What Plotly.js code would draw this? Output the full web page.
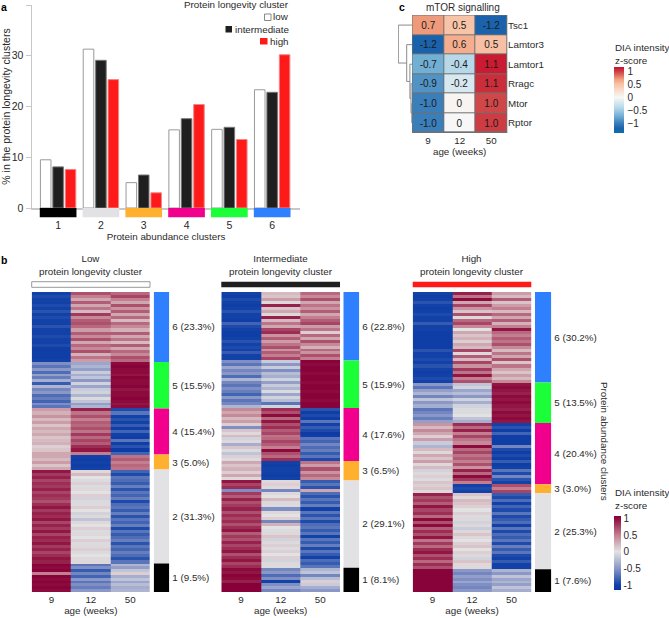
<!DOCTYPE html>
<html><head><meta charset="utf-8">
<script src="https://cdn.plot.ly/plotly-3.0.1.min.js"></script>
<style>html,body{margin:0;padding:0;background:#fff}#g{width:669px;height:618px}</style></head>
<body><div id="g"></div>
<script>
const abundanceClusters=[1,2,3,4,5,6];
const clusterColors=['#000000','#e2e1e4','#ffb02e','#f0008c','#1aff38','#2f80ff'];
const pctLow=[9.5,31.3,5.0,15.4,15.5,23.3];
const pctInt=[8.1,29.1,6.5,17.6,15.9,22.8];
const pctHigh=[7.6,25.3,3.0,20.4,13.5,30.2];
const ages=['9','12','50'];
const genes=['Tsc1','Lamtor3','Lamtor1','Rragc','Mtor','Rptor'];
const mtorZ=[[0.72,0.5,-1.2],[-1.2,0.62,0.52],[-0.72,-0.4,1.14],[-0.88,-0.2,1.07],[-1.0,0.03,0.98],[-1.0,0,1.02]];
const mtorText=[['0.7','0.5','-1.2'],['-1.2','0.6','0.5'],['-0.7','-0.4','1.1'],['-0.9','-0.2','1.1'],['-1.0','0','1.0'],['-1.0','0','1.0']];
const dendroH=[0,14,14,5.6,null,0,5.6,5.6,2.4,null,0,2.4,2.4,1.3,null,0,1.3,1.3,0.5,null,0,0.5,0.5,0];
const dendroRow=[0,0,1.94,1.94,null,1,1,2.88,2.88,null,2,2,3.75,3.75,null,3,3,4.5,4.5,null,4,4,5,5];

const low6=[[-1,.7,.6],[-.95,.5,.75],[-1,.3,.5],[-1,.65,.3],[-.95,.3,.7],[-1,.55,.4],[-.9,.2,.65],[-1,.8,.3],[-.95,.45,.6],[-1,.65,.2],[-1,.7,.6],[-.9,.6,.45],[-1,.35,.25],[-1,.65,.65],[-.95,.45,.3],[-1,.7,.55],[-1,.3,.2],[-.95,.6,.65],[-1.05,.45,.3],[-1.05,.7,.6],[-1.05,.25,.45],[-1.05,.55,.7],[-1,.35,.6]];
const low5=[[-.55,-.4,1],[-.7,-.3,1.05],[-.5,-.45,1],[-.75,-.15,1],[-.45,-.35,.95],[-.65,-.2,1.05],[-.35,-.5,1],[-.85,-.1,1],[-.3,-.4,1.05],[-.6,-.15,.95],[-.5,-.1,1],[-.75,-.3,1],[-.65,-.05,1.05],[-.8,-.2,1],[-.55,-.45,.95],[-.7,-.3,1]];
const low4=[[.35,.9,-.95],[.25,.55,-.7],[.4,.7,-1],[.2,.5,-.9],[.35,.65,-1],[.15,.6,-.85],[.3,.7,-1.05],[.2,.55,-.8],[.3,.8,-1],[.15,.6,-1.05],[.2,.75,-.7],[.25,.65,-1.05],[.1,.85,-.9],[.15,.95,-1.1],[.3,.5,-.8]];
const low3=[[.3,-1,.55],[.2,-1.05,.65],[.35,-1,.5],[.15,-1.05,.6],[.3,-1,.55]];
const low2=[[.95,.05,-.8],[.8,.2,-.95],[.9,0,-.7],[.75,-.05,-.75],[.85,.1,-.85],[.8,-.05,-.65],[.9,.05,-.9],[.75,0,-.7],[.85,.1,-.8],[.8,-.1,-.65],[.7,.05,-.95],[.85,-.05,-.75],[.95,.1,-.7],[.8,0,-.85],[.9,-.1,-.65],[.85,.05,-.9],[.95,-.2,-.7],[.75,.05,-.8],[.9,0,-.65],[.8,.1,-.95],[.95,-.05,-.7],[.75,.05,-.85],[.9,0,-.75],[.85,.1,-.65],[.95,-.05,-.9],[.8,.05,-.7],[.9,.1,-.8],[.75,-.05,-.65],[.85,0,-.75],[.95,.05,-.9],[.9,.05,-.7]];
const low1=[[1.05,-.7,-.3],[1,-.55,-.45],[1.05,-.85,-.2],[.5,-.6,.1],[1.05,-.8,-.35],[1,-.5,-.2],[1.05,-.7,-.4],[1,-.55,-.25],[1.05,-.65,-.35],[1,-.5,-.3]];

const int6=[[-1,.2,.6],[-1.05,.15,.45],[-.95,.35,.7],[-1,.05,.3],[-1.05,.9,.55],[-1,.15,.4],[-.9,.3,.65],[-1,.05,.3],[-1,.9,.5],[-1.05,.2,.65],[-.8,.55,.75],[-.95,.3,.35],[-1,.75,.55],[-1.05,.85,.1],[-1.05,.4,.6],[-1,.65,.3],[-.9,.35,.7],[-1,.55,.45],[-.95,.7,.25],[-1,.4,.6],[-.85,.65,.4],[-1,.5,.7],[-1,.75,.5]];
const int5=[[-.55,-.15,1.05],[-.7,-.5,1],[-.4,-.15,1.05],[-.6,-.55,1.05],[-.5,-.25,1],[-.75,-.35,1.05],[-.3,-.1,1.05],[-.6,-.45,1],[-.7,-.15,1.05],[-.55,-.3,1.05],[-.65,-.05,1],[-.8,-.4,1.05],[-.5,-.1,1.05],[-.7,-.25,1],[-.6,-.7,1.05],[-.3,-.1,1.05]];
const int4=[[.45,.85,-.9],[.3,.7,-1.05],[.45,1,-.95],[.2,.6,-1.05],[.35,.95,-.7],[.1,.7,-1],[-.55,.85,-.85],[.15,.65,-.95],[.05,.75,-1.1],[.2,.55,-1.05],[-.1,.6,-.7],[.05,.75,-.8],[-.35,.65,-.6],[.15,.5,-.75],[-.05,1,-.65],[-.2,.7,-.85],[.1,.6,-.7],[-.05,.85,-.95]];
const int3=[[.3,-1,.55],[.15,-1.05,.35],[.25,-1,.7],[.1,-1,.4],[.3,-1.05,.6],[.05,-1,.45]];
const int2=[[.95,.05,-.85],[.75,.1,-.7],[.85,.05,-.9],[-.55,-.6,.3],[.8,.05,-.75],[.65,0,-.9],[.9,.2,-.7],[.7,.05,-.85],[.8,-.05,-.65],[.9,-.55,-1],[.7,.05,-.7],[.85,0,-.9],[.75,.1,-.7],[.85,-.6,-.95],[.7,.25,-.75],[.85,0,-.7],[.95,-.05,-.85],[.65,.05,-.7],[.8,.15,-1],[.7,-.1,-.7],[.9,.05,-.85],[.75,.1,-.65],[.85,-.05,-.95],[.95,.1,-.7],[.7,0,-.85],[.85,.1,-1],[.95,-.1,-.75],[.75,.05,-.85],[.85,-.05,-.7]];
const int1=[[1,-.6,-.3],[.95,-.5,-.2],[1.05,-.75,-.6],[1,-.55,-.25],[.9,-1,.1],[1.1,-.55,-.15],[1.1,-.4,-.35],[1.1,-.6,-.5]];

const high6=[[-1,.9,.35],[-1.05,.55,.2],[-1,1,.65],[-.9,.3,.15],[-1,.75,.35],[-1.05,.4,.5],[-1,.15,.2],[-.95,.7,.6],[-1,.05,.3],[-1,.6,.65],[-.85,.75,.25],[-1,.45,.5],[-1,0,.95],[-1.05,.3,.6],[-1.05,.15,.5],[-1.05,.25,.65],[-1.05,.1,.55],[-1.05,.3,.7],[-1.05,.2,.45],[-.9,.75,.2],[-1,.05,.55],[-1,.65,.3],[-.95,.2,.7],[-1,.75,.15],[-.9,.4,.55],[-1,.8,.3],[-1.05,.55,.15],[-1,.95,.35],[-.95,.5,.2],[-1,.7,.45]];
const high5=[[-.5,-.2,.95],[-.7,-.1,1],[-.45,-.4,.95],[-.3,-.25,.9],[-.6,-.5,1],[-.2,-.1,.95],[-.5,-.35,1],[-.35,-.1,.95],[-.7,-.05,.9],[-.6,-.05,1],[-.5,0,.95],[-.65,-.2,1],[-.45,-.35,.95]];
const high4=[[.4,.85,-1],[.2,.6,-.9],[.45,.9,-1.05],[.3,.5,-.8],[.1,.75,-1.05],[.35,.55,-1.05],[-.15,.45,-1.05],[-.3,1,-.6],[.2,.6,-.95],[.05,.75,-1.05],[.3,.55,-.95],[.15,.65,-1.05],[.35,.5,-.85],[.05,.7,-1.05],[.2,.4,-1],[-.1,.9,-.7],[.05,.6,-.95],[.1,1,-.6],[-.05,.8,-.9],[.15,.5,-1]];
const high3=[[.1,-1,.7],[.15,-.95,.5],[.05,-1,.75]];
const high2=[[.9,.15,-.85],[.7,.05,-.95],[.8,.2,-.75],[.65,.15,-1],[.95,.1,-.8],[.75,0,-.95],[.85,.1,-.7],[.6,-.05,-.95],[1,.05,-.85],[.7,-.1,-.75],[1,.05,-1],[.65,-.15,-.7],[.85,.05,-.95],[.7,.15,-.75],[.95,.05,-.85],[.55,0,-.7],[.8,.1,-.95],[.6,.15,-.65],[.85,0,-.85],[.95,.1,-.7],[.7,.05,-.95],[.85,-.1,-1],[.6,.15,-.85],[.85,.05,-1],[.7,.05,-1]];
const high1=[[1.05,-.5,-.3],[1.05,-.6,-.5],[1.05,-.45,-.2],[1.05,-.55,-.4],[1.05,-.4,-.3],[1.05,-.55,-.45],[1.05,-.6,-.2],[1.05,-.5,-.35]];

const W=669,H=618;
const FONT='"Liberation Sans", Arial, sans-serif', INK='#2a2a2a', FS=9.8;
const dx=(a,b)=>[a/W,b/W], dy=(t,b)=>[1-b/H,1-t/H], px=a=>a/W, py=t=>1-t/H;
const hid={showgrid:false,zeroline:false,showticklabels:false,ticks:'',showline:false,fixedrange:true};

function normStops(vs,cs){const a=vs[0],b=vs[vs.length-1];return vs.map((v,i)=>[(v-a)/(b-a),cs[i]]);}
const abundVals=[-1.15,-1,-.5,0,.5,1,1.07];
const abundCols=['#0a37a5','#1242a8','#8b97c6','#e2e2e2','#c37f90','#8c0a3c','#88003a'];
const mtorVals=[-1.38,-1.2,-1,-.7,-.4,0,.5,.7,1,1.18];
const mtorCols=['#0a70b2','#1b62ac','#3a7fba','#75b2d6','#b7d8e9','#f7f7f7','#f8c4a8','#f2a07e','#cc4145','#c8102c'];

const traces=[], layout={
  width:W,height:H,margin:{l:0,r:0,t:0,b:0,autoexpand:false},paper_bgcolor:'#fff',plot_bgcolor:'rgba(0,0,0,0)',
  showlegend:false,barmode:'group',bargap:0.13,bargroupgap:0.15,font:{family:FONT,size:FS,color:INK},
  shapes:[],annotations:[]
};
const note=(text,x,y,o={})=>layout.annotations.push(Object.assign({text,x:px(x),y:py(y),xref:'paper',yref:'paper',showarrow:false,xanchor:'center',yanchor:'middle',font:{family:FONT,size:FS,color:INK}},o));
const box=(x0,x1,t,b,fill,line)=>layout.shapes.push({type:'rect',layer:'below',xref:'paper',yref:'paper',x0:px(x0),x1:px(x1),y0:py(t),y1:py(b),fillcolor:fill,line:{color:line||fill,width:line?1:0}});

// a: bars
const barX0=0.39,barX1=6.65;
[['low',pctLow,'#ffffff','#9a9a9a'],['intermediate',pctInt,'#1f1f1f','#777777'],['high',pctHigh,'#ff1a1a','#e88']].forEach(s=>{
  traces.push({type:'bar',name:s[0],x:abundanceClusters,y:s[1],marker:{color:s[2],line:{color:s[3],width:1}},xaxis:'x',yaxis:'y'});
});
layout.xaxis={domain:dx(32,300),range:[barX0,barX1],...hid,showline:true,linecolor:'#c8c8c8',linewidth:1.5,anchor:'y'};
layout.yaxis={domain:dy(5,208),range:[0,40],tickvals:[0,10,20,30,40],showgrid:false,zeroline:false,showline:true,linecolor:'#c8c8c8',linewidth:1.5,ticks:'outside',ticklen:5,tickcolor:'#c8c8c8',tickwidth:1,tickfont:{size:10.5},anchor:'x',fixedrange:true,
  title:{text:'% in the protein longevity clusters',font:{size:10.5},standoff:4}};
traces.push({type:'bar',x:abundanceClusters,y:abundanceClusters.map(()=>1),width:0.857,marker:{color:clusterColors},xaxis:'x2',yaxis:'y2',hoverinfo:'skip'});
layout.xaxis2={domain:dx(32,300),range:[barX0,barX1],showgrid:false,zeroline:false,showline:false,ticks:'',tickvals:abundanceClusters,tickfont:{size:10.5},anchor:'y2',fixedrange:true,
  title:{text:'Protein abundance clusters',font:{size:FS},standoff:1}};
layout.yaxis2={domain:dy(208,217.5),range:[0,1],...hid,anchor:'x2'};

// legend drawn to the original right-aligned layout
note('Protein longevity cluster',290.5,5,{xanchor:'right'});
note('low',290.5,17,{xanchor:'right'});
note('intermediate',290.5,29,{xanchor:'right'});
note('high',290.5,41,{xanchor:'right'});
box(264.5,271,14,20.5,'#ffffff','#888888');
box(225.5,232,26,32.5,'#1f1f1f');
box(260,267.5,38,44.5,'#ff1a1a');

// c: mTOR heatmap
box(412,507.3,15,133,'#707070');
traces.push({type:'heatmap',x:ages,y:genes,z:mtorZ,text:mtorText,texttemplate:'%{text}',textfont:{family:FONT,size:10,color:'#1a1a1a'},xgap:1,ygap:1,
  zmin:-1.38,zmax:1.18,colorscale:normStops(mtorVals,mtorCols),xaxis:'x3',yaxis:'y3',
  colorbar:{x:px(614),xanchor:'left',xpad:0,y:py(67),yanchor:'top',ypad:0,len:66,lenmode:'pixels',thickness:10,thicknessmode:'pixels',outlinewidth:0,
    tickvals:[-1,-.5,0,.5,1],ticktext:['\u22121','\u22120.5','0','0.5','1'],ticks:'outside',ticklen:2,tickcolor:'rgba(0,0,0,0)',tickfont:{family:FONT,size:10,color:INK}}});
layout.xaxis3={domain:dx(412.3,507),type:'category',showgrid:false,zeroline:false,ticks:'',tickfont:{size:FS},anchor:'y3',fixedrange:true,title:{text:'age (weeks)',font:{size:FS},standoff:3}};
layout.yaxis3={domain:dy(15.3,132.7),type:'category',autorange:'reversed',side:'right',showgrid:false,zeroline:false,ticks:'',tickfont:{size:FS},anchor:'x3',fixedrange:true};
traces.push({type:'scatter',mode:'lines',x:dendroH,y:dendroRow,line:{color:'#8a8a8a',width:1},connectgaps:false,xaxis:'x4',yaxis:'y4',hoverinfo:'skip'});
layout.xaxis4={domain:dx(398,412.3),range:[14.3,0],...hid,anchor:'y4'};
layout.yaxis4={domain:dy(15.3,132.7),range:[5.5,-.5],...hid,anchor:'x4'};
note('mTOR signalling',462.7,8,{font:{family:FONT,size:10,color:INK}});

// b: three panels
function panel(n,rowsByCluster,pcts,heatX,stripX,labelTop,header){
  const xa='x'+n,ya='y'+n,xb='x'+(n+1),yb='y'+(n+1);
  const order=[5,4,3,2,1,0];
  let z=[],edges=[],cum=0,bases=[],vals=[],cols=[],mids=[],labels=[];
  order.forEach(i=>{
    const rows=rowsByCluster[i],p=pcts[i];
    rows.forEach((r,k)=>{z.push(r);edges.push(cum+p*k/rows.length);});
    bases.push(cum);vals.push(p);cols.push(clusterColors[i]);mids.push(cum+p/2);labels.push(abundanceClusters[i]+' ('+p.toFixed(1)+'%)');
    cum+=p;
  });
  edges.push(cum);
  const tr={type:'heatmap',x:ages,y:edges,z:z,zmin:-1.15,zmax:1.07,colorscale:normStops(abundVals,abundCols),showscale:false,xaxis:xa,yaxis:ya};
  if(n===9){tr.showscale=true;tr.colorbar={x:px(614),xanchor:'left',xpad:0,y:py(516),yanchor:'top',ypad:0,len:74,lenmode:'pixels',thickness:7,thicknessmode:'pixels',outlinewidth:0,
    tickvals:[-1,-.5,0,.5,1],ticktext:['-1','-0.5','0','0.5','1'],ticks:'',tickfont:{family:FONT,size:10,color:INK}};}
  traces.push(tr);
  layout['xaxis'+n]={domain:dx(heatX[0],heatX[1]),type:'category',showgrid:false,zeroline:false,ticks:'',tickfont:{size:FS},anchor:ya,fixedrange:true,title:{text:'age (weeks)',font:{size:FS},standoff:3}};
  layout['yaxis'+n]={domain:dy(292,592),range:[cum,0],...hid,anchor:xa};
  traces.push({type:'bar',orientation:'v',x:vals.map(()=>1),y:vals,base:bases,width:1,marker:{color:cols},xaxis:xb,yaxis:yb,hoverinfo:'skip'});
  layout['xaxis'+(n+1)]={domain:dx(stripX[0],stripX[1]),range:[.5,1.5],...hid,anchor:yb};
  layout['yaxis'+(n+1)]={domain:dy(292,592),range:[cum,0],side:'right',showgrid:false,zeroline:false,showline:false,ticks:'',tickvals:mids,ticktext:labels,tickfont:{size:FS},ticklabelstandoff:2,anchor:xb,fixedrange:true};
  box(heatX[0],heatX[1],281.7,287.3,header[0],header[1]);
  note(labelTop,(heatX[0]+heatX[1])/2,265);
}
panel(5,[low1,low2,low3,low4,low5,low6],pctLow,[31.7,150],[153.7,169.3],'Low<br>protein longevity cluster',['#ffffff','#999999']);
panel(7,[int1,int2,int3,int4,int5,int6],pctInt,[221.3,340],[343.3,359.3],'Intermediate<br>protein longevity cluster',['#1f1f1f']);
panel(9,[high1,high2,high3,high4,high5,high6],pctHigh,[412.7,531.3],[535,551.3],'High<br>protein longevity cluster',['#ff1a1a']);

note('Protein abundance clusters',605,441,{textangle:90});
note('DIA intensity<br>z-score',612.5,54,{xanchor:'left',align:'left'});
note('DIA intensity<br>z-score',612.5,499,{xanchor:'left',align:'left'});
const tag={font:{family:FONT,size:10.5,color:'#000'}};
note('<b>a</b>',4,7,tag); note('<b>b</b>',4,260,tag); note('<b>c</b>',401.5,7,tag);

Plotly.newPlot('g',traces,layout,{displayModeBar:false,staticPlot:true});
</script></body></html>
